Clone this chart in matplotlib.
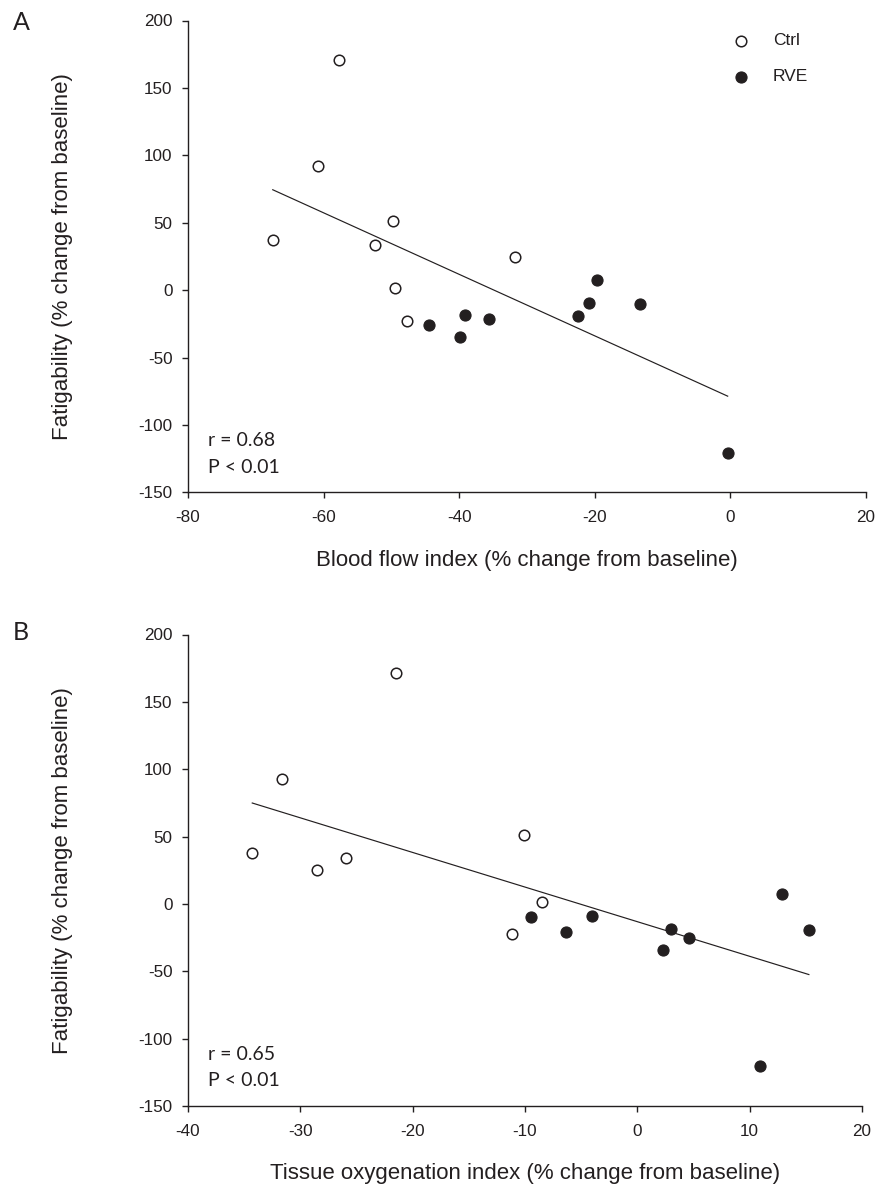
import numpy as np
import matplotlib
matplotlib.use("Agg")
import matplotlib.pyplot as plt

# ---- data -------------------------------------------------------------
# Panel A: blood flow index vs fatigability
bfi_ctrl = [-57.7, -60.8, -67.5, -49.7, -52.4, -49.5, -47.7, -31.8]
fat_a_ctrl = [171.0, 92.3, 37.4, 51.2, 33.7, 1.7, -22.5, 24.8]
bfi_rve = [-44.5, -39.9, -39.2, -35.6, -22.5, -20.9, -19.7, -13.3, -0.4]
fat_a_rve = [-25.5, -34.4, -18.3, -21.0, -18.8, -9.7, 7.7, -10.1, -120.8]

# Panel B: tissue oxygenation index vs fatigability
toi_ctrl = [-21.45, -31.66, -34.28, -28.48, -25.9, -10.12, -8.53, -11.2]
fat_b_ctrl = [171.5, 92.7, 37.7, 25.0, 34.0, 51.5, 1.7, -22.3]
toi_rve = [-9.49, -6.39, -4.04, 2.27, 3.03, 4.62, 12.84, 15.27, 10.93]
fat_b_rve = [-9.9, -20.8, -9.2, -34.2, -18.3, -25.3, 7.7, -19.1, -120.4]

group_names = ["Ctrl", "RVE"]
stats_a = ["r = 0.68", "P < 0.01"]
stats_b = ["r = 0.65", "P < 0.01"]

xticks_a = [-80, -60, -40, -20, 0, 20]
xticks_b = [-40, -30, -20, -10, 0, 10, 20]
yticks = [-150, -100, -50, 0, 50, 100, 150, 200]

xlabel_a = "Blood flow index (% change from baseline)"
xlabel_b = "Tissue oxygenation index (% change from baseline)"
ylabel = "Fatigability (% change from baseline)"

# ---- style ------------------------------------------------------------
INK = "#231f20"
plt.rcParams["font.family"] = ["Liberation Sans", "DejaVu Sans"]
plt.rcParams["axes.unicode_minus"] = False
plt.rcParams["text.color"] = INK
plt.rcParams["axes.labelcolor"] = INK
plt.rcParams["xtick.color"] = INK
plt.rcParams["ytick.color"] = INK
ANNOT_FONT = ["Lato", "DejaVu Sans"]

OPEN = dict(ls="none", marker="o", ms=7.6, mfc="white", mec=INK, mew=1.1)
FILLED = dict(ls="none", marker="o", ms=8.0, mfc=INK, mec=INK, mew=0.8)

W, H = 875, 1189
fig = plt.figure(figsize=(W / 100, H / 100), dpi=100)


def px_axes(left, top, right, bottom):
    return fig.add_axes([left / W, 1 - bottom / H, (right - left) / W, (bottom - top) / H])


def panel(ax, xc, yc, xr, yr, xticks, xlabel, stats, legend=False):
    ax.plot(xc, yc, zorder=3, **OPEN)
    ax.plot(xr, yr, zorder=3, **FILLED)

    # least-squares fit over both groups, drawn across the data range
    xa = np.concatenate([xc, xr])
    ya = np.concatenate([yc, yr])
    k, b = np.polyfit(xa, ya, 1)
    xs = np.array([xa.min(), xa.max()])
    ax.plot(xs, k * xs + b, color=INK, lw=0.85, zorder=2)

    ax.set_xlim(xticks[0], xticks[-1])
    ax.set_ylim(yticks[0], yticks[-1])
    ax.set_xticks(xticks)
    ax.set_yticks(yticks)
    for s in ("top", "right"):
        ax.spines[s].set_visible(False)
    for s in ("left", "bottom"):
        ax.spines[s].set_linewidth(1.0)
        ax.spines[s].set_color(INK)
    ax.tick_params(direction="out", length=4.2, width=1.0, labelsize=12.3)
    ax.tick_params(axis="x", pad=8.5)
    ax.tick_params(axis="y", pad=7)

    bb = ax.get_position()
    h_px = bb.height * H
    w_px = bb.width * W
    ax.set_xlabel(xlabel, fontsize=16, va="top")
    ax.xaxis.set_label_coords(0.5, -57.5 / h_px)
    ax.set_ylabel(ylabel, fontsize=16)
    ax.yaxis.set_label_coords(-(188 - 73) / w_px, 0.5)

    ax.text(6.0 / w_px * 3.4, 46.0 / h_px, stats[0], transform=ax.transAxes,
            fontsize=14, family=ANNOT_FONT, va="baseline", ha="left")
    ax.text(6.0 / w_px * 3.4, 19.5 / h_px, stats[1], transform=ax.transAxes,
            fontsize=14, family=ANNOT_FONT, va="baseline", ha="left")

    if legend:
        mx = (741 - 188) / w_px
        tx = (773 - 188) / w_px
        for i, (name, style) in enumerate(zip(group_names, (OPEN, FILLED))):
            ty = 1 - (20 + 36 * i) / h_px
            ax.plot([mx], [ty], transform=ax.transAxes, clip_on=False, **style)
            ax.text(tx, ty, name, transform=ax.transAxes, fontsize=12.5,
                    va="center", ha="left")


ax_a = px_axes(188, 20.5, 866, 492.5)
panel(ax_a, bfi_ctrl, fat_a_ctrl, bfi_rve, fat_a_rve, xticks_a, xlabel_a, stats_a, legend=True)

ax_b = px_axes(188, 634.5, 862, 1106)
panel(ax_b, toi_ctrl, fat_b_ctrl, toi_rve, fat_b_rve, xticks_b, xlabel_b, stats_b)

fig.text(21.7 / W, 1 - 23 / H, "A", fontsize=18, family=ANNOT_FONT, va="center", ha="center")
fig.text(20.5 / W, 1 - 632.5 / H, "B", fontsize=18, family=ANNOT_FONT, va="center", ha="center")

fig.savefig("out.png", dpi=100)
